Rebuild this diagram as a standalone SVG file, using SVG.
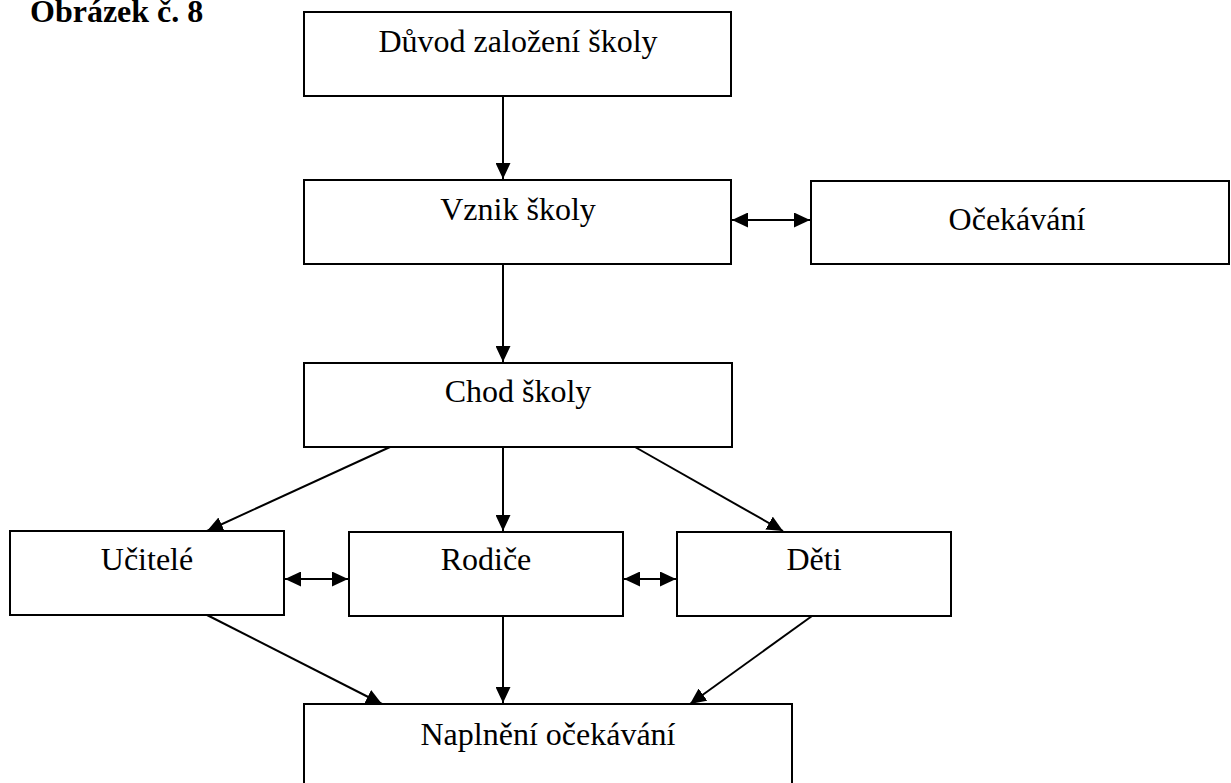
<svg xmlns="http://www.w3.org/2000/svg" width="1231" height="783" viewBox="0 0 1231 783">
  <style>
    .box { fill: #ffffff; stroke: #000000; stroke-width: 2; }
    .lbl { font-family: "Liberation Serif", "Times New Roman", serif; font-size: 32px; fill: #000000; text-anchor: middle; }
    .title { font-family: "Liberation Serif", "Times New Roman", serif; font-size: 32px; font-weight: bold; fill: #000000; }
    .edge { stroke: #000000; stroke-width: 2; fill: none; }
    .one { marker-end: url(#head); }
    .two { marker-start: url(#head); marker-end: url(#head); }
  </style>
  <defs>
    <!-- solid triangular arrowhead, reversed automatically at line starts -->
    <marker id="head" markerUnits="userSpaceOnUse" markerWidth="17" markerHeight="15" refX="16" refY="7.5" orient="auto-start-reverse" viewBox="0 0 17 15">
      <path d="M0,0 L16,7.5 L0,15 Z" fill="#000000"/>
    </marker>
  </defs>
  <rect width="1231" height="783" fill="#ffffff"/>

  <text class="title" x="30" y="22">Obrázek č. 8</text>

  <g id="connectors">
    <line class="edge one" x1="503" y1="97" x2="503" y2="179"/>
    <line class="edge two" x1="732" y1="220" x2="810" y2="220"/>
    <line class="edge one" x1="503" y1="265" x2="503" y2="362"/>
    <line class="edge one" x1="390" y1="447" x2="207" y2="531"/>
    <line class="edge one" x1="503" y1="448" x2="503" y2="531"/>
    <line class="edge one" x1="635" y1="447" x2="783" y2="531"/>
    <line class="edge two" x1="285" y1="579" x2="348" y2="579"/>
    <line class="edge two" x1="624" y1="579" x2="676" y2="579"/>
    <line class="edge one" x1="207" y1="615" x2="382" y2="704"/>
    <line class="edge one" x1="503" y1="617" x2="503" y2="703"/>
    <line class="edge one" x1="812" y1="616" x2="690" y2="704"/>
  </g>

  <g id="duvod">
    <rect class="box" x="304" y="12" width="427" height="84"/>
    <text class="lbl" x="518" y="52">Důvod založení školy</text>
  </g>
  <g id="vznik">
    <rect class="box" x="304" y="180" width="427" height="84"/>
    <text class="lbl" x="518" y="220">Vznik školy</text>
  </g>
  <g id="ocekavani">
    <rect class="box" x="811" y="181" width="418" height="83"/>
    <text class="lbl" x="1017" y="230">Očekávání</text>
  </g>
  <g id="chod">
    <rect class="box" x="304" y="363" width="428" height="84"/>
    <text class="lbl" x="518" y="402">Chod školy</text>
  </g>
  <g id="ucitele">
    <rect class="box" x="10" y="531" width="274" height="84"/>
    <text class="lbl" x="147" y="570">Učitelé</text>
  </g>
  <g id="rodice">
    <rect class="box" x="349" y="532" width="274" height="84"/>
    <text class="lbl" x="486" y="570">Rodiče</text>
  </g>
  <g id="deti">
    <rect class="box" x="677" y="532" width="274" height="84"/>
    <text class="lbl" x="814" y="570">Děti</text>
  </g>
  <g id="naplneni">
    <rect class="box" x="304" y="704" width="488" height="100"/>
    <text class="lbl" x="548" y="745">Naplnění očekávání</text>
  </g>
</svg>
